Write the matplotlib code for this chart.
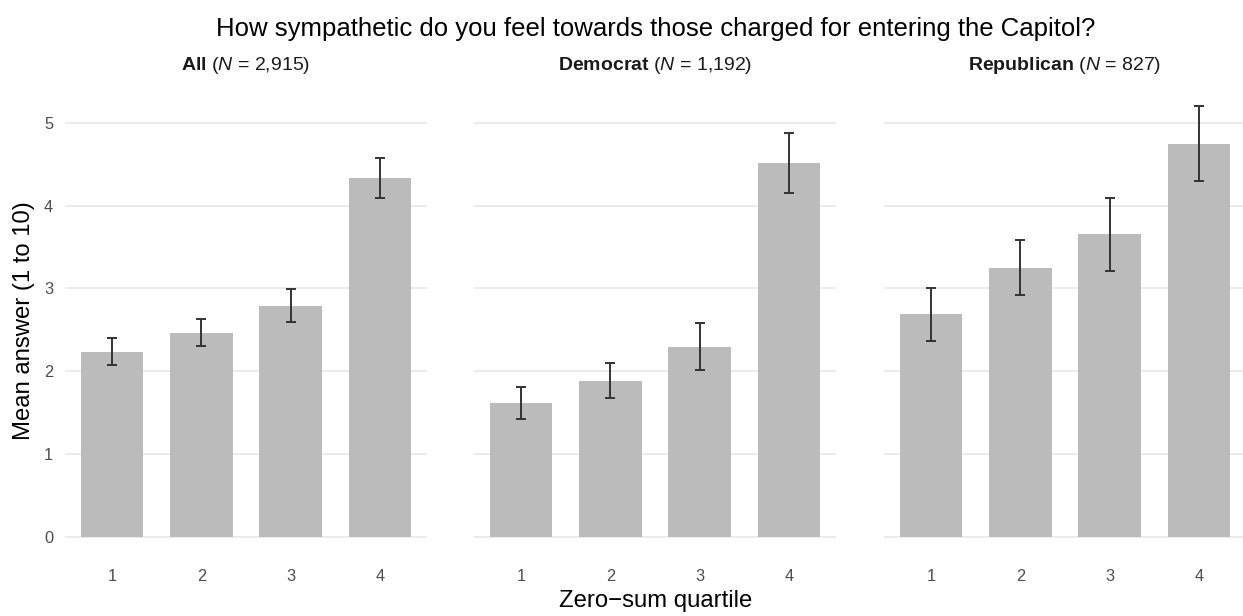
import numpy as np
import matplotlib.pyplot as plt

plt.rcParams['font.family'] = ['Liberation Sans', 'DejaVu Sans']
plt.rcParams['mathtext.fontset'] = 'custom'
plt.rcParams['mathtext.rm'] = 'Liberation Sans'
plt.rcParams['mathtext.it'] = 'Liberation Sans:italic'
plt.rcParams['mathtext.bf'] = 'Liberation Sans:bold'

# data
quartiles = [1, 2, 3, 4]
groups = ['All', 'Democrat', 'Republican']
group_n = ['2,915', '1,192', '827']
means = {
    'All': [2.23, 2.46, 2.79, 4.34],
    'Democrat': [1.61, 1.88, 2.29, 4.52],
    'Republican': [2.69, 3.25, 3.66, 4.75],
}
lower = {
    'All': [2.07, 2.30, 2.59, 4.09],
    'Democrat': [1.42, 1.68, 2.01, 4.15],
    'Republican': [2.37, 2.92, 3.21, 4.30],
}
upper = {
    'All': [2.40, 2.63, 2.99, 4.58],
    'Democrat': [1.81, 2.10, 2.58, 4.88],
    'Republican': [3.01, 3.59, 4.09, 5.20],
}

W, H = 1243, 616
fig = plt.figure(figsize=(W / 100, H / 100), dpi=100)

lefts = [65, 474, 884]
pw = 362
bottom_px, top_px = 559, 84

for k, g in enumerate(groups):
    ax = fig.add_axes([lefts[k] / W, (H - bottom_px) / H, pw / W, (bottom_px - top_px) / H])
    m = np.array(means[g])
    lo = np.array(lower[g])
    hi = np.array(upper[g])
    ax.bar(quartiles, m, width=0.7, color='#BBBBBB', zorder=2)
    ax.errorbar(quartiles, m, yerr=[m - lo, hi - m], fmt='none', ecolor='#333333',
                elinewidth=1.4, capsize=3.5, capthick=1.4, zorder=3)
    ax.set_xlim(0.47, 4.53)
    ax.set_ylim(-0.27, 5.47)
    ax.set_yticks([0, 1, 2, 3, 4, 5])
    ax.set_xticks(quartiles)
    ax.grid(axis='y', color='#EBEBEB', linewidth=1.4, zorder=0)
    ax.set_axisbelow(True)
    for s in ax.spines.values():
        s.set_visible(False)
    ax.tick_params(length=0, labelsize=11.8, labelcolor='#4D4D4D')
    ax.tick_params(axis='x', pad=7)
    ax.tick_params(axis='y', pad=8.6)
    if k > 0:
        ax.set_yticklabels([])
    fig.text((lefts[k] + pw / 2) / W, 1 - 66 / H,
             r'$\bf{' + g + r'}$ ($\it{N}$ = ' + group_n[k] + ')',
             ha='center', va='center', fontsize=14, color='#1A1A1A')

cx = (lefts[0] + lefts[-1] + pw) / 2 / W
fig.text(cx, 1 - 29 / H, 'How sympathetic do you feel towards those charged for entering the Capitol?',
         ha='center', va='center', fontsize=18.5)
fig.text(cx, 1 - 601 / H, 'Zero\u2212sum quartile', ha='center', va='center', fontsize=17.2)
fig.text(24 / W, 1 - 321 / H, 'Mean answer (1 to 10)', ha='center', va='center',
         rotation=90, fontsize=17.2)

plt.savefig('out.png', dpi=100, facecolor='white')
